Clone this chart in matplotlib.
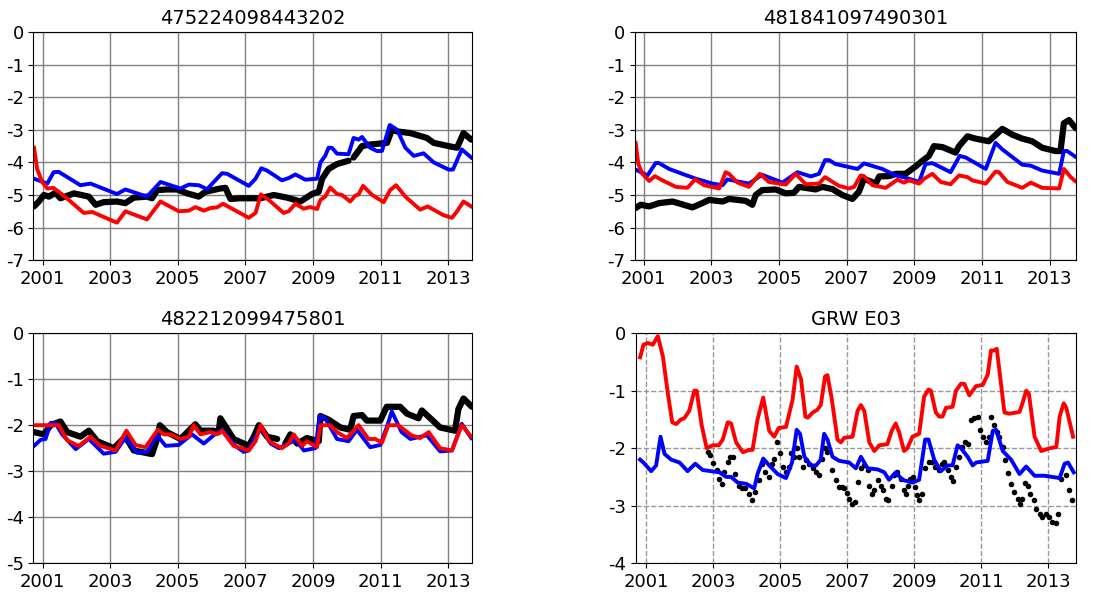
import numpy as np
import matplotlib
matplotlib.use("Agg")
import matplotlib.pyplot as plt

plt.rcParams['axes.unicode_minus'] = False

nan = np.nan

# ---- panel 1: 475224098443202 ----
p1_blue_t = [2000.75, 2001.14, 2001.33, 2001.48, 2002.12, 2002.42, 2003.2, 2003.45, 2004.09, 2004.49,
             2005.08, 2005.33, 2005.62, 2005.87, 2006.31, 2006.46, 2007.1, 2007.3, 2007.47, 2007.64,
             2008.08, 2008.28, 2008.48, 2008.77, 2009.12, 2009.22, 2009.36, 2009.46, 2009.56, 2009.71,
             2010.05, 2010.2, 2010.35, 2010.45, 2010.69, 2010.89, 2011.04, 2011.27, 2011.49, 2011.73,
             2011.98, 2012.27, 2012.57, 2013.01, 2013.14, 2013.4, 2013.68]
p1_blue_v = [-4.5, -4.65, -4.3, -4.29, -4.7, -4.65, -4.97, -4.83, -5.05, -4.6,
             -4.8, -4.68, -4.7, -4.82, -4.33, -4.35, -4.72, -4.5, -4.18, -4.25,
             -4.55, -4.48, -4.37, -4.53, -4.5, -4.0, -3.8, -3.55, -3.55, -3.73,
             -3.75, -3.25, -3.3, -3.22, -3.55, -3.65, -3.65, -2.85, -3.0, -3.55,
             -3.8, -3.72, -4.0, -4.22, -4.22, -3.6, -3.85]
p1_red_t = [2000.75, 2000.84, 2000.99, 2001.14, 2001.32, 2001.48, 2001.83, 2002.22, 2002.47, 2003.2,
            2003.45, 2004.09, 2004.49, 2005.03, 2005.33, 2005.52, 2005.77, 2005.97, 2006.16, 2006.34,
            2007.1, 2007.3, 2007.46, 2007.69, 2008.13, 2008.28, 2008.48, 2008.72, 2008.92, 2009.12,
            2009.22, 2009.36, 2009.51, 2009.71, 2009.86, 2010.1, 2010.25, 2010.35, 2010.48, 2010.75,
            2011.09, 2011.28, 2011.46, 2011.73, 2012.17, 2012.39, 2012.86, 2013.11, 2013.26, 2013.45,
            2013.68]
p1_red_v = [-3.55, -4.2, -4.6, -4.8, -4.78, -4.9, -5.2, -5.55, -5.52, -5.85,
            -5.5, -5.75, -5.2, -5.5, -5.48, -5.37, -5.48, -5.4, -5.38, -5.27,
            -5.7, -5.55, -4.98, -5.15, -5.55, -5.5, -5.27, -5.42, -5.37, -5.43,
            -5.15, -5.05, -4.77, -4.97, -5.0, -5.2, -5.02, -4.98, -4.72, -5.0,
            -5.22, -4.85, -4.7, -5.05, -5.45, -5.35, -5.62, -5.7, -5.5, -5.2,
            -5.35]
p1_obs_t = [2000.75, 2000.89, 2001.04, 2001.19, 2001.38, 2001.53, 2001.93, 2002.37, 2002.57, 2002.81,
            2003.2, 2003.45, 2003.7, 2004.09, 2004.24, 2004.39, 2004.68, 2004.98, 2005.28, 2005.62,
            2005.82, 2006.26, 2006.41, 2006.56, 2006.85, 2007.44, 2007.84, 2008.23, 2008.63, 2008.97,
            2009.17, 2009.27, 2009.46, 2009.71, 2010.05, 2010.12, 2010.2, 2010.45, 2010.69, 2011.19,
            2011.33, 2011.49, 2011.88, 2012.37, 2012.57, 2013.01, 2013.26, 2013.45, 2013.68]
p1_obs_v = [-5.35, -5.2, -5.0, -5.05, -4.93, -5.1, -4.95, -5.05, -5.3, -5.22,
            -5.2, -5.25, -5.08, -5.05, -5.1, -4.85, -4.83, -4.83, -4.95, -5.05,
            -4.9, -4.8, -4.78, -5.12, -5.1, -5.1, -5.0, -5.08, -5.2, -4.97,
            -4.9, -4.5, -4.2, -4.05, -3.95, nan, -3.85, -3.5, -3.45, -3.4,
            -3.0, -3.05, -3.1, -3.25, -3.4, -3.5, -3.55, -3.1, -3.3]

# ---- panel 2: 481841097490301 ----
p2_blue_t = [2000.76, 2001.11, 2001.35, 2001.45, 2001.75, 2002.14, 2002.54, 2003.03, 2003.33, 2003.47,
             2004.11, 2004.5, 2005.1, 2005.54, 2005.94, 2006.18, 2006.36, 2006.48, 2006.67, 2007.32,
             2007.51, 2008.05, 2008.45, 2008.84, 2009.14, 2009.33, 2009.53, 2010.07, 2010.34, 2010.52,
             2011.11, 2011.4, 2011.6, 2012.19, 2012.44, 2012.78, 2013.28, 2013.42, 2013.52, 2013.75]
p2_blue_v = [-4.22, -4.4, -4.02, -4.02, -4.2, -4.35, -4.5, -4.65, -4.7, -4.52,
             -4.65, -4.38, -4.62, -4.3, -4.43, -4.35, -3.93, -3.93, -4.05, -4.2,
             -4.03, -4.2, -4.4, -4.5, -4.6, -4.05, -4.02, -4.3, -3.8, -3.85,
             -4.2, -3.4, -3.6, -4.07, -4.1, -4.25, -4.35, -3.65, -3.65, -3.82]
p2_red_t = [2000.76, 2000.84, 2000.96, 2001.16, 2001.33, 2001.55, 2001.95, 2002.29, 2002.52, 2002.78,
            2003.23, 2003.42, 2003.52, 2003.77, 2004.11, 2004.43, 2004.7, 2005.2, 2005.49, 2005.79,
            2006.18, 2006.36, 2006.77, 2007.07, 2007.22, 2007.41, 2007.51, 2007.76, 2008.15, 2008.5,
            2008.69, 2008.84, 2009.14, 2009.29, 2009.53, 2009.78, 2010.07, 2010.32, 2010.57, 2010.71,
            2011.11, 2011.4, 2011.5, 2011.75, 2012.19, 2012.44, 2012.78, 2013.28, 2013.42, 2013.62,
            2013.75]
p2_red_v = [-3.4, -4.05, -4.35, -4.57, -4.42, -4.55, -4.75, -4.78, -4.52, -4.7,
            -4.8, -4.3, -4.35, -4.62, -4.75, -4.35, -4.6, -4.68, -4.35, -4.67,
            -4.65, -4.45, -4.72, -4.8, -4.75, -4.4, -4.42, -4.7, -4.78, -4.53,
            -4.62, -4.55, -4.65, -4.5, -4.35, -4.6, -4.67, -4.4, -4.45, -4.55,
            -4.65, -4.28, -4.3, -4.6, -4.78, -4.62, -4.78, -4.8, -4.2, -4.45,
            -4.57]
p2_obs_t = [2000.76, 2000.91, 2001.16, 2001.45, 2001.85, 2002.44, 2002.73, 2002.93, 2003.33, 2003.52,
            2004.01, 2004.21, 2004.31, 2004.5, 2004.9, 2005.2, 2005.44, 2005.59, 2006.08, 2006.28,
            2006.58, 2006.87, 2007.17, 2007.36, 2007.51, 2007.86, 2007.96, 2008.25, 2008.45, 2008.74,
            2009.04, 2009.24, 2009.43, 2009.58, 2009.83, 2010.22, 2010.32, 2010.57, 2010.81, 2011.2,
            2011.6, 2011.9, 2012.19, 2012.48, 2012.78, 2013.17, 2013.32, 2013.42, 2013.57, 2013.77]
p2_obs_v = [-5.4, -5.3, -5.35, -5.25, -5.2, -5.38, -5.25, -5.15, -5.2, -5.12,
            -5.18, -5.3, -5.0, -4.85, -4.83, -4.95, -4.93, -4.75, -4.83, -4.75,
            -4.82, -5.0, -5.12, -4.9, -4.5, -4.65, -4.43, -4.42, -4.35, -4.35,
            -4.12, -3.95, -3.8, -3.5, -3.53, -3.7, -3.5, -3.2, -3.27, -3.35,
            -2.97, -3.15, -3.27, -3.35, -3.55, -3.65, -3.65, -2.8, -2.7, -2.95]

# ---- panel 3: 482212099475801 ----
p3_blue_t = [2000.75, 2000.94, 2001.09, 2001.24, 2001.38, 2001.58, 2001.98, 2002.37, 2002.81, 2003.16,
             2003.45, 2003.8, 2004.09, 2004.39, 2004.64, 2005.03, 2005.42, 2005.77, 2006.06, 2006.31,
             2006.7, 2006.95, 2007.1, 2007.45, 2007.75, 2007.99, 2008.49, 2008.73, 2009.07, 2009.2,
             2009.36, 2009.71, 2010.05, 2010.3, 2010.69, 2010.99, 2011.18, 2011.33, 2011.62, 2011.88,
             2012.37, 2012.76, 2013.11, 2013.4, 2013.68]
p3_blue_v = [-2.45, -2.32, -2.3, -1.95, -1.95, -2.2, -2.52, -2.3, -2.62, -2.58,
             -2.27, -2.6, -2.58, -2.22, -2.45, -2.43, -2.2, -2.4, -2.22, -2.1,
             -2.45, -2.58, -2.55, -2.05, -2.4, -2.5, -2.32, -2.55, -2.5, -1.8,
             -1.85, -2.3, -2.35, -2.1, -2.48, -2.43, -2.05, -1.7, -2.15, -2.3,
             -2.22, -2.57, -2.55, -1.97, -2.28]
p3_red_t = [2000.75, 2001.48, 2001.73, 2002.07, 2002.42, 2002.71, 2003.16, 2003.48, 2003.75, 2004.04,
            2004.41, 2004.59, 2004.79, 2005.08, 2005.33, 2005.47, 2005.67, 2005.97, 2006.16, 2006.31,
            2006.65, 2007.1, 2007.3, 2007.45, 2007.7, 2008.08, 2008.28, 2008.43, 2008.68, 2008.82,
            2009.12, 2009.22, 2009.51, 2009.71, 2010.0, 2010.35, 2010.64, 2010.84, 2011.04, 2011.23,
            2011.52, 2011.91, 2012.17, 2012.42, 2012.76, 2013.11, 2013.4, 2013.68]
p3_red_v = [-2.0, -2.0, -2.33, -2.45, -2.25, -2.45, -2.55, -2.12, -2.43, -2.48,
            -2.1, -2.2, -2.2, -2.3, -2.25, -2.0, -2.2, -2.15, -2.2, -2.12,
            -2.45, -2.55, -2.35, -2.0, -2.35, -2.5, -2.4, -2.2, -2.45, -2.35,
            -2.48, -2.0, -2.0, -2.15, -2.28, -2.0, -2.3, -2.3, -2.38, -2.0,
            -2.0, -2.22, -2.28, -2.15, -2.5, -2.55, -2.0, -2.25]
p3_obs_t = [2000.75, 2001.04, 2001.24, 2001.53, 2001.73, 2002.12, 2002.37, 2002.62, 2003.11, 2003.45,
            2003.7, 2004.24, 2004.39, 2004.47, 2004.68, 2005.08, 2005.52, 2005.67, 2006.06, 2006.21,
            2006.26, 2006.65, 2007.1, 2007.25, 2007.4, 2007.64, 2007.94, 2008.06, 2008.18, 2008.33,
            2008.53, 2008.82, 2009.17, 2009.22, 2009.46, 2009.81, 2010.1, 2010.2, 2010.45, 2010.59,
            2010.99, 2011.18, 2011.58, 2011.78, 2012.12, 2012.22, 2012.47, 2012.76, 2013.2, 2013.3,
            2013.45, 2013.7]
p3_obs_v = [-2.15, -2.2, -2.0, -1.92, -2.15, -2.25, -2.12, -2.35, -2.5, -2.25,
            -2.55, -2.63, -2.3, -2.0, -2.15, -2.3, -1.98, -2.12, -2.12, -2.15,
            -1.85, -2.3, -2.45, -2.25, -2.0, -2.25, -2.3, nan, -2.4, -2.2,
            -2.4, -2.28, -2.35, -1.8, -1.88, -2.05, -2.1, -1.8, -1.78, -1.9,
            -1.9, -1.6, -1.6, -1.75, -1.85, -1.68, -1.85, -2.05, -2.12, -1.65,
            -1.42, -1.6]

# ---- panel 4: GRW E03 ----
p4_red_t = [2000.81, 2000.91, 2001.04, 2001.19, 2001.34, 2001.49, 2001.64, 2001.77, 2001.89, 2002.03,
            2002.13, 2002.28, 2002.43, 2002.5, 2002.65, 2002.8, 2002.98, 2003.16, 2003.28, 2003.43,
            2003.53, 2003.68, 2003.88, 2004.07, 2004.17, 2004.32, 2004.49, 2004.67, 2004.82, 2004.95,
            2005.17, 2005.37, 2005.49, 2005.62, 2005.75, 2005.82, 2005.97, 2006.11, 2006.21, 2006.34,
            2006.41, 2006.54, 2006.71, 2006.81, 2006.91, 2007.16, 2007.31, 2007.41, 2007.51, 2007.66,
            2007.81, 2007.96, 2008.2, 2008.33, 2008.45, 2008.55, 2008.7, 2008.8, 2008.95, 2009.15,
            2009.3, 2009.43, 2009.5, 2009.65, 2009.75, 2009.85, 2009.95, 2010.15, 2010.25, 2010.4,
            2010.5, 2010.65, 2010.85, 2011.05, 2011.2, 2011.3, 2011.4, 2011.47, 2011.57, 2011.7,
            2011.85, 2012.15, 2012.25, 2012.35, 2012.43, 2012.6, 2012.8, 2013.05, 2013.25, 2013.35,
            2013.47, 2013.55, 2013.75]
p4_red_v = [-0.42, -0.2, -0.17, -0.2, -0.05, -0.4, -1.05, -1.55, -1.58, -1.5,
            -1.48, -1.35, -1.0, -1.0, -1.6, -2.0, -1.95, -1.95, -1.85, -1.55,
            -1.57, -1.9, -2.07, -2.03, -2.03, -1.5, -1.12, -1.7, -1.8, -1.65,
            -1.63, -1.15, -0.58, -0.8, -1.45, -1.47, -1.38, -1.33, -1.25, -0.75,
            -0.73, -1.15, -1.85, -1.9, -1.82, -1.8, -1.35, -1.25, -1.35, -1.9,
            -2.05, -1.95, -1.93, -1.7, -1.57, -1.72, -2.05, -2.0, -1.8, -1.75,
            -1.1, -0.98, -1.0, -1.38, -1.45, -1.45, -1.3, -1.28, -1.0, -0.88,
            -0.88, -1.08, -0.92, -0.9, -0.72, -0.3, -0.3, -0.27, -0.75, -1.38,
            -1.4, -1.37, -1.2, -1.0, -1.05, -1.8, -2.05, -2.0, -1.98, -1.45,
            -1.22, -1.3, -1.8]
p4_blue_t = [2000.81, 2000.91, 2001.14, 2001.29, 2001.42, 2001.54, 2001.74, 2001.99, 2002.23, 2002.46,
             2002.68, 2003.18, 2003.38, 2003.53, 2003.73, 2003.98, 2004.22, 2004.32, 2004.49, 2004.67,
             2004.92, 2005.17, 2005.35, 2005.49, 2005.59, 2005.72, 2005.92, 2006.07, 2006.21, 2006.31,
             2006.41, 2006.56, 2006.76, 2007.06, 2007.26, 2007.41, 2007.61, 2007.91, 2008.11, 2008.25,
             2008.45, 2008.65, 2008.95, 2009.15, 2009.33, 2009.43, 2009.6, 2009.8, 2010.0, 2010.15,
             2010.3, 2010.4, 2010.6, 2010.75, 2010.85, 2011.2, 2011.35, 2011.45, 2011.65, 2011.9,
             2012.15, 2012.35, 2012.6, 2012.9, 2013.35, 2013.5, 2013.6, 2013.77]
p4_blue_v = [-2.2, -2.25, -2.4, -2.3, -1.8, -2.1, -2.2, -2.25, -2.4, -2.27,
             -2.38, -2.42, -2.5, -2.5, -2.6, -2.62, -2.7, -2.45, -2.18, -2.3,
             -2.45, -2.52, -2.25, -1.68, -1.75, -2.15, -2.3, -2.3, -2.2, -1.75,
             -1.85, -2.15, -2.22, -2.25, -2.35, -2.15, -2.35, -2.37, -2.42, -2.55,
             -2.42, -2.55, -2.6, -2.55, -1.85, -1.85, -2.2, -2.4, -2.3, -2.3,
             -1.95, -2.0, -2.15, -2.3, -2.25, -2.22, -1.7, -1.68, -2.05, -2.2,
             -2.45, -2.32, -2.48, -2.48, -2.52, -2.27, -2.25, -2.42]
p4_obs_t = [2002.83, 2002.9, 2003.0, 2003.1, 2003.18, 2003.26, 2003.33, 2003.43, 2003.5, 2003.58,
            2003.66, 2003.76, 2003.86, 2003.96, 2004.06, 2004.15, 2004.25, 2004.35, 2004.45, 2004.55,
            2004.65, 2004.75, 2004.82, 2004.89, 2004.99, 2005.07, 2005.17, 2005.25, 2005.32, 2005.42,
            2005.49, 2005.57, 2005.67, 2005.77, 2005.87, 2005.97, 2006.07, 2006.16, 2006.26, 2006.34,
            2006.41, 2006.56, 2006.66, 2006.76, 2006.84, 2006.91, 2006.98, 2007.06, 2007.14, 2007.24,
            2007.31, 2007.41, 2007.51, 2007.61, 2007.66, 2007.73, 2007.81, 2007.91, 2008.0, 2008.08,
            2008.15, 2008.23, 2008.33, 2008.4, 2008.5, 2008.6, 2008.7, 2008.75, 2008.82, 2008.89,
            2008.96, 2009.04, 2009.09, 2009.16, 2009.25, 2009.33, 2009.43, 2009.53, 2009.63, 2009.73,
            2009.83, 2009.9, 2010.0, 2010.1, 2010.17, 2010.25, 2010.33, 2010.43, 2010.53, 2010.6,
            2010.7, 2010.8, 2010.9, 2010.97, 2011.05, 2011.15, 2011.25, 2011.3, 2011.4, 2011.47,
            2011.55, 2011.65, 2011.73, 2011.8, 2011.9, 2012.0, 2012.1, 2012.15, 2012.23, 2012.3,
            2012.4, 2012.47, 2012.57, 2012.65, 2012.75, 2012.83, 2012.93, 2013.03, 2013.13, 2013.23,
            2013.3, 2013.4, 2013.55, 2013.63, 2013.73]
p4_obs_v = [-2.06, -2.12, -2.25, -2.38, -2.53, -2.62, -2.41, -2.24, -2.15, -2.15,
            -2.45, -2.65, -2.7, -2.7, -2.79, -2.9, -2.76, -2.56, -2.27, -2.41,
            -2.5, -2.27, -2.18, -1.89, -2.09, -2.33, -2.41, -2.33, -2.09, -2.15,
            -2.0, -2.15, -2.33, -2.21, -2.27, -2.35, -2.41, -2.47, -2.18, -2.0,
            -2.06, -2.38, -2.56, -2.67, -2.67, -2.7, -2.78, -2.88, -2.98, -2.93,
            -2.59, -2.35, -2.3, -2.38, -2.65, -2.79, -2.73, -2.56, -2.65, -2.73,
            -2.88, -2.91, -2.65, -2.47, -2.41, -2.53, -2.72, -2.79, -2.65, -2.53,
            -2.5, -2.67, -2.82, -2.9, -2.79, -2.35, -2.24, -2.24, -2.33, -2.38,
            -2.27, -2.24, -2.38, -2.5, -2.57, -2.33, -2.15, -1.98, -1.89, -1.92,
            -1.51, -1.48, -1.45, -1.69, -1.8, -1.89, -1.8, -1.45, -1.6, -1.72,
            -1.8, -1.98, -2.21, -2.44, -2.62, -2.76, -2.88, -2.98, -2.88, -2.6,
            -2.65, -2.79, -2.91, -3.05, -3.14, -3.2, -3.14, -3.2, -3.28, -3.3,
            -3.14, -2.53, -2.47, -2.72, -2.9]

titles = ["475224098443202", "481841097490301", "482212099475801", "GRW E03"]
year_ticks = [2001, 2003, 2005, 2007, 2009, 2011, 2013]

fig = plt.figure(figsize=(11.13, 5.94), dpi=100)
rects = [[0.030, 0.562, 0.394, 0.384],
         [0.5705, 0.562, 0.396, 0.384],
         [0.030, 0.052, 0.394, 0.387],
         [0.5715, 0.052, 0.395, 0.387]]
xlims = [(2000.73, 2013.70), (2000.74, 2013.77), (2000.73, 2013.70), (2000.69, 2013.83)]
ylims = [(-7, 0), (-7, 0), (-5, 0), (-4, 0)]

panels = [
    (p1_obs_t, p1_obs_v, p1_blue_t, p1_blue_v, p1_red_t, p1_red_v),
    (p2_obs_t, p2_obs_v, p2_blue_t, p2_blue_v, p2_red_t, p2_red_v),
    (p3_obs_t, p3_obs_v, p3_blue_t, p3_blue_v, p3_red_t, p3_red_v),
    (p4_obs_t, p4_obs_v, p4_blue_t, p4_blue_v, p4_red_t, p4_red_v),
]

for i, (ot, ov, bt, bv, rt, rv) in enumerate(panels):
    ax = fig.add_axes(rects[i])
    if i < 3:
        ax.plot(ot, ov, color='black', lw=4.5, solid_capstyle='round', solid_joinstyle='round')
        ax.grid(True, color='gray', lw=1, ls='-')
    else:
        ax.plot(ot, ov, 'o', color='black', ms=4, mec='none')
        ax.grid(True, color='gray', lw=1, ls='--', alpha=0.8)
    ax.plot(bt, bv, color='blue', lw=2.8)
    ax.plot(rt, rv, color='red', lw=2.8)
    ax.set_axisbelow(True)
    ax.set_xlim(*xlims[i])
    ax.set_ylim(*ylims[i])
    ax.set_xticks(year_ticks)
    ax.set_xticklabels([str(y) for y in year_ticks])
    lo, hi = ylims[i]
    ax.set_yticks(range(lo, hi + 1))
    ax.tick_params(labelsize=13)
    ax.set_title(titles[i], fontsize=14)

fig.savefig('out.png', dpi=100)
